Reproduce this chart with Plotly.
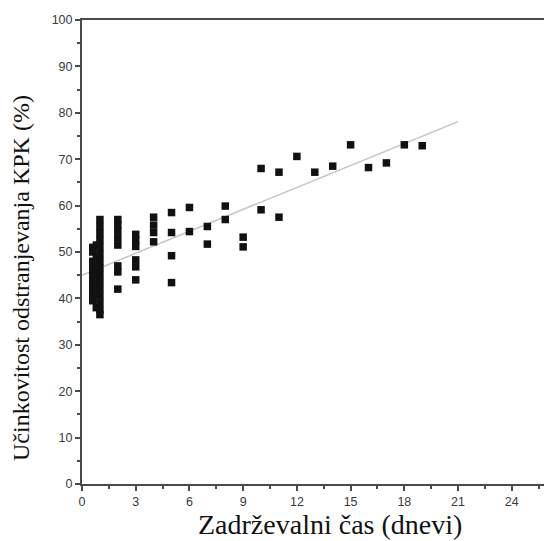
import plotly.graph_objects as go

# Retention time (days) and COD removal efficiency (%) per sample
day_06 = [51, 50, 48, 47, 46, 45, 44, 43, 42, 41, 40, 39.5]
day_08 = [51.5, 49, 47.5, 45.5, 44, 42.5, 41, 38]
day_10 = [57, 55.5, 54, 52.5, 51, 49.5, 48, 46.5, 45, 43.5, 42, 40.5, 39, 37.5, 36.5]
day_02 = [57, 55.8, 54.5, 53, 51.5, 47, 45.7, 42]
day_03 = [53.8, 52.5, 51.2, 48.3, 46.8, 44]
day_04 = [57.5, 55.8, 54.2, 52.2]
day_05 = [58.5, 54.2, 49.2, 43.4]
day_06b = [59.6, 54.4]
day_07 = [55.5, 51.7]
day_08b = [59.9, 57.0]
day_09 = [53.2, 51.1]
late_days = [10, 10, 11, 11, 12, 13, 14, 15, 16, 17, 18, 19]
late_pct = [68.0, 59.1, 67.2, 57.5, 70.6, 67.2, 68.5, 73.1, 68.2, 69.2, 73.1, 72.9]

# Linear trend
trend_x = [0, 21]
trend_y = [45.0, 78.1]

groups = [(0.6, day_06), (0.8, day_08), (1.0, day_10), (2, day_02), (3, day_03),
          (4, day_04), (5, day_05), (6, day_06b), (7, day_07), (8, day_08b), (9, day_09)]
retention_days = []
removal_pct = []
for d, vals in groups:
    retention_days += [d] * len(vals)
    removal_pct += vals
retention_days += late_days
removal_pct += late_pct

x_ticks = [0, 3, 6, 9, 12, 15, 18, 21, 24]
y_ticks = [0, 10, 20, 30, 40, 50, 60, 70, 80, 90, 100]

serif = "Times New Roman, Liberation Serif, DejaVu Serif, serif"
sans = "Arial, Liberation Sans, sans-serif"

fig = go.Figure()
fig.add_trace(go.Scatter(x=trend_x, y=trend_y, mode="lines",
                         line=dict(color="#c4c4c4", width=1.5), hoverinfo="skip"))
fig.add_trace(go.Scatter(x=retention_days, y=removal_pct, mode="markers",
                         marker=dict(symbol="square", size=7.5, color="#111111",
                                     line=dict(width=0))))

axis_color = "#4a4a4a"
fig.update_xaxes(range=[0, 25.8], tickvals=x_ticks, ticktext=[str(v) for v in x_ticks],
                 showgrid=False, zeroline=False, showline=True, linecolor=axis_color,
                 linewidth=2, mirror=True, ticks="outside", ticklen=5, tickwidth=1.5,
                 tickcolor=axis_color,
                 minor=dict(ticks="outside", dtick=1.5, ticklen=3, tickwidth=1.5,
                            tickcolor=axis_color, showgrid=False),
                 tickfont=dict(family=sans, size=12.5, color="#3a3a3a"))
fig.update_yaxes(range=[0, 100], tickvals=y_ticks, ticktext=[str(v) for v in y_ticks],
                 showgrid=False, zeroline=False, showline=True, linecolor=axis_color,
                 linewidth=2, ticks="outside", ticklen=5, tickwidth=1.5,
                 tickcolor=axis_color,
                 minor=dict(ticks="outside", dtick=5, ticklen=3, tickwidth=1.5,
                            tickcolor=axis_color, showgrid=False),
                 tickfont=dict(family=sans, size=12.5, color="#3a3a3a"))

fig.add_annotation(text="Zadrževalni čas (dnevi)", xref="paper", yref="paper",
                   x=0.537, y=-0.088, showarrow=False, xanchor="center", yanchor="middle",
                   font=dict(family=serif, size=28, color="#111111"))
fig.add_annotation(text="Učinkovitost odstranjevanja KPK (%)", xref="paper", yref="paper",
                   x=-0.132, y=0.444, showarrow=False, textangle=-90,
                   xanchor="center", yanchor="middle",
                   font=dict(family=serif, size=24, color="#111111"))

fig.update_layout(width=544, height=541, showlegend=False,
                  margin=dict(l=82, r=0, t=20, b=57),
                  plot_bgcolor="white", paper_bgcolor="white")

fig.write_html("out.html")
